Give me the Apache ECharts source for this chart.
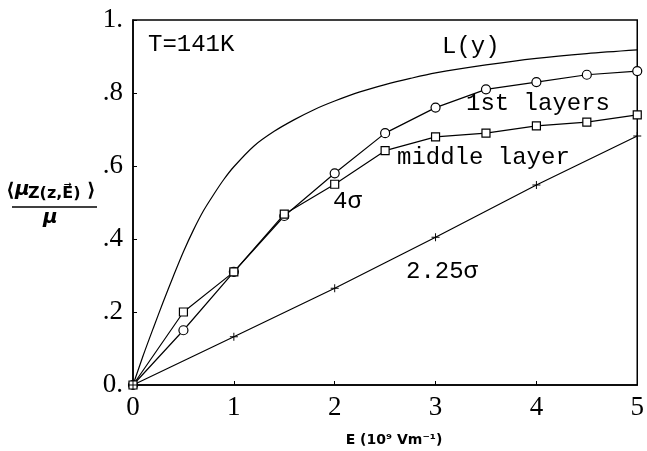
<!DOCTYPE html>
<html>
<head>
<meta charset="utf-8">
<script src="https://cdn.jsdelivr.net/npm/echarts@6/dist/echarts.min.js"></script>
<style>html,body{margin:0;padding:0;background:#fff;}#c{width:647px;height:451px;}</style>
</head>
<body>
<div id="c"></div>
<script>
// ---- data ----
const xTicks = [0, 1, 2, 3, 4, 5];
const yTickLabels = ['0.', '.2', '.4', '.6', '.8', '1.'];

const langevinE = [0, 0.1, 0.2, 0.3, 0.4, 0.5, 0.6, 0.7, 0.8, 0.9, 1.0, 1.2, 1.4, 1.6, 1.8, 2.0, 2.25, 2.5, 2.75, 3.0, 3.5, 4.0, 4.5, 5.0];
const langevinY = [0, 0.08, 0.155, 0.228, 0.298, 0.365, 0.425, 0.478, 0.522, 0.563, 0.598, 0.655, 0.695, 0.727, 0.755, 0.778, 0.803, 0.823, 0.84, 0.855, 0.877, 0.895, 0.908, 0.918];

const layerE = [0, 0.5, 1.0, 1.5, 2.0, 2.5, 3.0, 3.5, 4.0, 4.5, 5.0];
const firstLayer = [0, 0.15, 0.31, 0.463, 0.58, 0.69, 0.76, 0.81, 0.83, 0.85, 0.86];
const middleLayer = [0, 0.20, 0.31, 0.468, 0.55, 0.642, 0.68, 0.69, 0.71, 0.72, 0.74];

const lowE = [0, 1, 2, 3, 4, 5];
const lowSigma = [0, 0.132, 0.265, 0.405, 0.548, 0.682];

const zip = (a, b) => a.map((v, i) => [v, b[i]]);

const chart = echarts.init(document.getElementById('c'), null, {renderer: 'canvas'});
const serif = 'Liberation Serif';
const plusPath = 'path://M4.4,0H5.6V4.4H10V5.6H5.6V10H4.4V5.6H0V4.4H4.4Z';

const lineStyle = {color: '#000', width: 1.2};
const hollow = {color: '#fff', borderColor: '#000', borderWidth: 1.2};
const annot = '24px "Liberation Mono"';

chart.setOption({
  animation: false,
  backgroundColor: '#fff',
  grid: {left: 133, right: 9, top: 20, bottom: 66, show: true, borderColor: '#000', borderWidth: 1.5, backgroundColor: 'transparent'},
  xAxis: {
    type: 'value', min: 0, max: 5, interval: 1,
    axisLine: {lineStyle: {color: '#000', width: 1.5}},
    axisTick: {inside: true, length: 4, lineStyle: {color: '#000'}},
    axisLabel: {margin: 9, fontFamily: serif, fontSize: 27, color: '#000',
      formatter: v => String(xTicks[xTicks.indexOf(v)])},
    splitLine: {show: false}
  },
  yAxis: {
    type: 'value', min: 0, max: 1, interval: 0.2,
    axisLine: {lineStyle: {color: '#000', width: 1.5}},
    axisTick: {inside: true, length: 4, lineStyle: {color: '#000'}},
    axisLabel: {margin: 10, fontFamily: serif, fontSize: 27, color: '#000',
      formatter: v => yTickLabels[Math.round(v / 0.2)]},
    splitLine: {show: false}
  },
  series: [
    {name: 'L(y)', type: 'line', smooth: 0.3, showSymbol: false, data: zip(langevinE, langevinY), lineStyle},
    {name: '1st layers', type: 'line', data: zip(layerE, firstLayer), symbol: 'circle', symbolSize: 9, itemStyle: hollow, lineStyle},
    {name: 'middle layer', type: 'line', data: zip(layerE, middleLayer), symbol: 'rect', symbolSize: 8, itemStyle: hollow, lineStyle},
    {name: '2.25σ', type: 'line', data: zip(lowE, lowSigma), symbol: plusPath, symbolSize: 8, itemStyle: {color: '#000'}, lineStyle}
  ],
  graphic: [
    {type: 'text', left: 148, top: 33, style: {text: 'T=141K', font: annot, fill: '#000'}},
    {type: 'text', left: 442, top: 35, style: {text: 'L(y)', font: annot, fill: '#000'}},
    {type: 'text', left: 466, top: 92, style: {text: '1st layers', font: annot, fill: '#000'}},
    {type: 'text', left: 397, top: 146, style: {text: 'middle layer', font: annot, fill: '#000'}},
    {type: 'text', left: 333, top: 190, style: {text: '4σ', font: annot, fill: '#000'}},
    {type: 'text', left: 406, top: 260, style: {text: '2.25σ', font: annot, fill: '#000'}},
    // x axis title
    {type: 'text', x: 394, y: 440, style: {text: 'E (10\u2079 Vm\u207B\u00B9)', font: 'bold 14px "DejaVu Sans"', fill: '#000', align: 'center', verticalAlign: 'middle'}},
    // y axis title as a fraction
    {type: 'text', left: 6, top: 182, style: {text: '\u27E8', font: 'bold 19px "DejaVu Sans"', fill: '#000'}},
    {type: 'text', left: 15, top: 180, style: {text: 'μ', font: 'italic bold 20px "DejaVu Sans"', fill: '#000'}},
    {type: 'text', left: 28, top: 186, style: {text: 'Z(z,E\u20D7)', font: 'bold 16px "DejaVu Sans"', fill: '#000'}},
    {type: 'text', left: 87, top: 182, style: {text: '\u27E9', font: 'bold 19px "DejaVu Sans"', fill: '#000'}},
    {type: 'line', shape: {x1: 12, y1: 207, x2: 97, y2: 207}, style: {stroke: '#000', lineWidth: 1.6}},
    {type: 'text', left: 43, top: 208, style: {text: 'μ', font: 'italic bold 20px "DejaVu Sans"', fill: '#000'}}
  ]
});
</script>
</body>
</html>
